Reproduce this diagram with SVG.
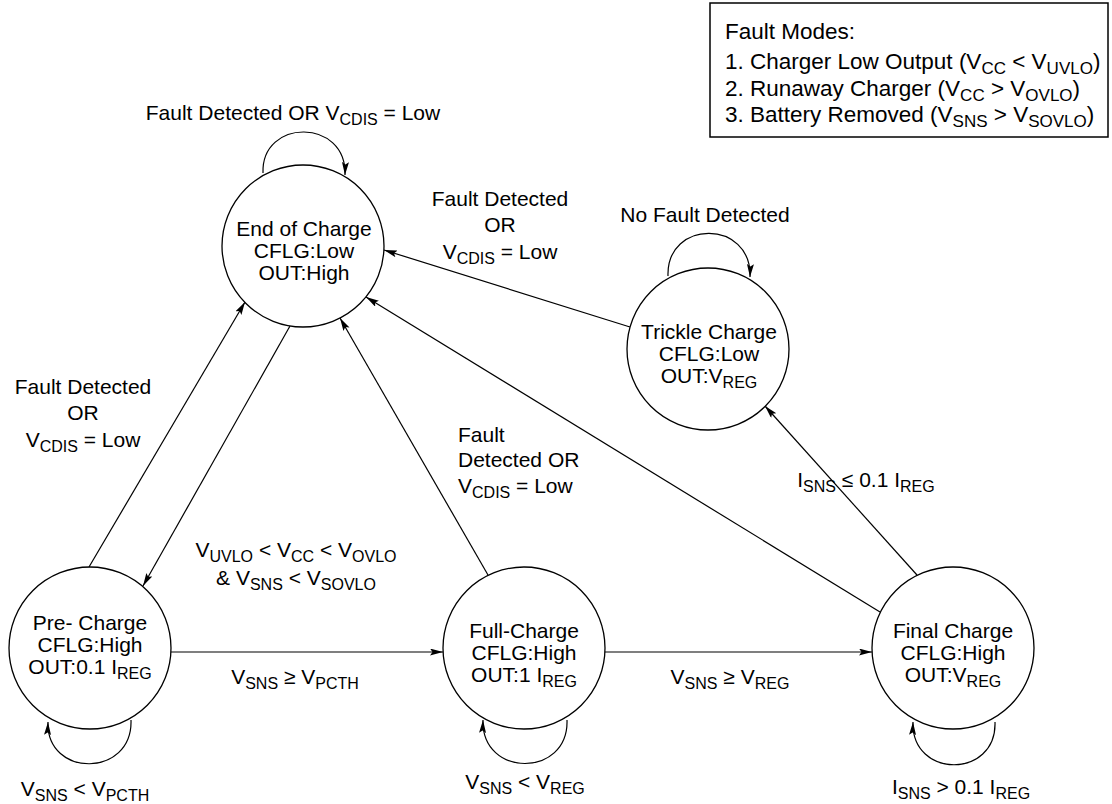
<svg xmlns="http://www.w3.org/2000/svg" width="1112" height="804" viewBox="0 0 1112 804">
<defs>
<style>
.t{font-family:"Liberation Sans",Arial,sans-serif;font-size:21px;fill:#000}
.c{text-anchor:middle}
.s{font-size:16px}
.lg{font-size:22.5px}
.lg .s{font-size:17px}
.node{fill:#fff;stroke:#000;stroke-width:1.3}
.e{fill:none;stroke:#000;stroke-width:1.2;marker-end:url(#ah)}
</style>
<marker id="ah" markerUnits="userSpaceOnUse" markerWidth="14" markerHeight="8" refX="13" refY="3.5" orient="auto">
<path d="M0,0 L13,3.5 L0,7 L2.5,3.5 z" fill="#000"/>
</marker>
</defs>
<rect width="1112" height="804" fill="#fff"/>

<g id="legend">
<rect x="710" y="3" width="398" height="134" fill="#fff" stroke="#000" stroke-width="1.5"/>
<text class="t lg" x="725" y="39">Fault Modes:</text>
<text class="t lg" x="725" y="69">1. Charger Low Output (V<tspan class="s" dy="5">CC</tspan><tspan dy="-5"> &lt; V</tspan><tspan class="s" dy="5">UVLO</tspan><tspan dy="-5">)</tspan></text>
<text class="t lg" x="725" y="96">2. Runaway Charger (V<tspan class="s" dy="5">CC</tspan><tspan dy="-5"> &gt; V</tspan><tspan class="s" dy="5">OVLO</tspan><tspan dy="-5">)</tspan></text>
<text class="t lg" x="725" y="122">3. Battery Removed (V<tspan class="s" dy="5">SNS</tspan><tspan dy="-5"> &gt; V</tspan><tspan class="s" dy="5">SOVLO</tspan><tspan dy="-5">)</tspan></text>
</g>

<g id="connectors">
<path class="e" d="M89,567 L245,302"/>
<path class="e" d="M290,326 L143,586"/>
<path class="e" d="M488,575 L340,318"/>
<path class="e" d="M880,612 L366,297"/>
<path class="e" d="M630,327 L384,250"/>
<path class="e" d="M917,575 L765,406"/>
<path class="e" d="M171,652 L443,652"/>
<path class="e" d="M605,652 L872,652"/>
<path class="e" d="M263,173 C261,118 347,118 345,175"/>
<path class="e" d="M668,276 C666,219 752,219 750,277"/>
<path class="e" d="M131,720 C133,778 46,778 48,722"/>
<path class="e" d="M567,720 C569,778 481,778 483,720"/>
<path class="e" d="M995,722 C997,779 911,779 913,722"/>
</g>

<g id="labels">
<text class="t c" x="293" y="120">Fault Detected OR V<tspan class="s" dy="5">CDIS</tspan><tspan dy="-5"> = Low</tspan></text>
<text class="t c" x="500" y="206">Fault Detected</text>
<text class="t c" x="500" y="232">OR</text>
<text class="t c" x="500" y="259">V<tspan class="s" dy="5">CDIS</tspan><tspan dy="-5"> = Low</tspan></text>
<text class="t c" x="705" y="222">No Fault Detected</text>
<text class="t c" x="83" y="394">Fault Detected</text>
<text class="t c" x="83" y="420">OR</text>
<text class="t c" x="83" y="447">V<tspan class="s" dy="5">CDIS</tspan><tspan dy="-5"> = Low</tspan></text>
<text class="t" x="458" y="442">Fault</text>
<text class="t" x="458" y="467">Detected OR</text>
<text class="t" x="458" y="493">V<tspan class="s" dy="5">CDIS</tspan><tspan dy="-5"> = Low</tspan></text>
<text class="t c" x="296" y="557">V<tspan class="s" dy="5">UVLO</tspan><tspan dy="-5"> &lt; V</tspan><tspan class="s" dy="5">CC</tspan><tspan dy="-5"> &lt; V</tspan><tspan class="s" dy="5">OVLO</tspan></text>
<text class="t c" x="296" y="585">&amp; V<tspan class="s" dy="5">SNS</tspan><tspan dy="-5"> &lt; V</tspan><tspan class="s" dy="5">SOVLO</tspan></text>
<text class="t c" x="295" y="684">V<tspan class="s" dy="5">SNS</tspan><tspan dy="-5"> ≥ V</tspan><tspan class="s" dy="5">PCTH</tspan></text>
<text class="t c" x="730" y="684">V<tspan class="s" dy="5">SNS</tspan><tspan dy="-5"> ≥ V</tspan><tspan class="s" dy="5">REG</tspan></text>
<text class="t c" x="866" y="487">I<tspan class="s" dy="5">SNS</tspan><tspan dy="-5"> ≤ 0.1 I</tspan><tspan class="s" dy="5">REG</tspan></text>
<text class="t c" x="85" y="796">V<tspan class="s" dy="5">SNS</tspan><tspan dy="-5"> &lt; V</tspan><tspan class="s" dy="5">PCTH</tspan></text>
<text class="t c" x="525" y="789">V<tspan class="s" dy="5">SNS</tspan><tspan dy="-5"> &lt; V</tspan><tspan class="s" dy="5">REG</tspan></text>
<text class="t c" x="961" y="794">I<tspan class="s" dy="5">SNS</tspan><tspan dy="-5"> &gt; 0.1 I</tspan><tspan class="s" dy="5">REG</tspan></text>
</g>

<g id="end-of-charge">
<circle class="node" cx="303" cy="246" r="81"/>
<text class="t c" x="304" y="236">End of Charge</text>
<text class="t c" x="304" y="258">CFLG:Low</text>
<text class="t c" x="304" y="280">OUT:High</text>
</g>
<g id="trickle-charge">
<circle class="node" cx="708" cy="349" r="81"/>
<text class="t c" x="709" y="339">Trickle Charge</text>
<text class="t c" x="709" y="361">CFLG:Low</text>
<text class="t c" x="709" y="383">OUT:V<tspan class="s" dy="5">REG</tspan></text>
</g>
<g id="pre-charge">
<circle class="node" cx="90" cy="648" r="81"/>
<text class="t c" x="90" y="630">Pre- Charge</text>
<text class="t c" x="90" y="652">CFLG:High</text>
<text class="t c" x="90" y="674">OUT:0.1 I<tspan class="s" dy="5">REG</tspan></text>
</g>
<g id="full-charge">
<circle class="node" cx="524" cy="648" r="81"/>
<text class="t c" x="524" y="638">Full-Charge</text>
<text class="t c" x="524" y="660">CFLG:High</text>
<text class="t c" x="524" y="682">OUT:1 I<tspan class="s" dy="5">REG</tspan></text>
</g>
<g id="final-charge">
<circle class="node" cx="953" cy="648" r="81"/>
<text class="t c" x="953" y="638">Final Charge</text>
<text class="t c" x="953" y="660">CFLG:High</text>
<text class="t c" x="953" y="682">OUT:V<tspan class="s" dy="5">REG</tspan></text>
</g>
</svg>
